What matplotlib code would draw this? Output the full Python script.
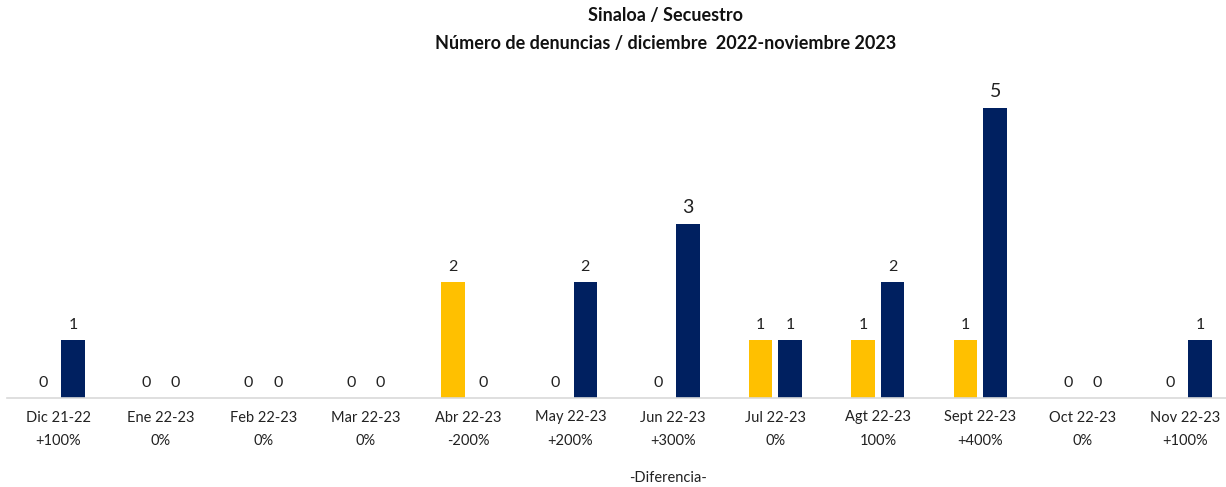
import matplotlib
matplotlib.use("Agg")
import matplotlib.pyplot as plt
import numpy as np

plt.rcParams['font.family'] = ['Lato', 'DejaVu Sans']

months = ["Dic 21-22", "Ene 22-23", "Feb 22-23", "Mar 22-23", "Abr 22-23", "May 22-23",
          "Jun 22-23", "Jul 22-23", "Agt 22-23", "Sept 22-23", "Oct 22-23", "Nov 22-23"]
diffs = ["+100%", "0%", "0%", "0%", "-200%", "+200%", "+300%", "0%", "100%", "+400%", "0%", "+100%"]
prev_year = [0, 0, 0, 0, 2, 0, 0, 1, 1, 1, 0, 0]
curr_year = [1, 0, 0, 0, 0, 2, 3, 1, 2, 5, 0, 1]

yellow = "#FFC000"
navy = "#002060"

W, H = 1226, 487
fig = plt.figure(figsize=(W / 100, H / 100), dpi=100)
left_px, right_px = 7, 1226
ax = fig.add_axes([left_px / W, 1 - 398 / H, (right_px - left_px) / W, (398 - 60) / H])

x = np.arange(len(months))
w = 0.23
off = 0.145
b1 = ax.bar(x - off, prev_year, w, color=yellow)
b2 = ax.bar(x + off, curr_year, w, color=navy)

for bars, vals in ((b1, prev_year), (b2, curr_year)):
    for rect, v in zip(bars, vals):
        fs = 14 if v >= 3 else 11.5
        ax.annotate(str(v), (rect.get_x() + rect.get_width() / 2, v),
                    xytext=(0, 6), textcoords="offset points",
                    ha="center", va="bottom", fontsize=fs, color="#222222")

cat_px = 102.45
ax.set_xlim(-0.5, -0.5 + (right_px - left_px) / cat_px)
ax.set_ylim(0, (398 - 60) / 58)
ax.set_xticks(x)
ax.set_xticklabels([f"{m}\n{d}" for m, d in zip(months, diffs)], fontsize=10.5,
                   linespacing=1.9, color="#222222")
ax.tick_params(axis="x", length=0, pad=9)
ax.set_yticks([])
for s in ("left", "right", "top"):
    ax.spines[s].set_visible(False)
ax.spines["bottom"].set_color("#d9d9d9")
ax.spines["bottom"].set_linewidth(1.2)

fig.text(668 / W, 1 - 478 / H, "-Diferencia-", ha="center", va="center", fontsize=10.5, color="#222222")
fig.text(666 / W, 1 - 16 / H, "Sinaloa / Secuestro", ha="center", va="center",
         fontsize=13, fontweight="bold", color="#111111")
fig.text(666 / W, 1 - 43 / H, "Número de denuncias / diciembre  2022-noviembre 2023",
         ha="center", va="center", fontsize=13, fontweight="bold", color="#111111")

fig.savefig("out.png", dpi=100)
